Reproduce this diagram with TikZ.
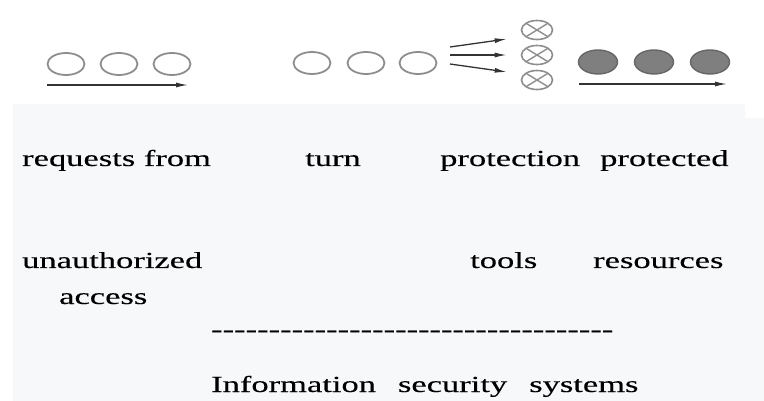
\documentclass[tikz,border=0pt]{standalone}
\usepackage{fontspec}
\usepackage{tikz}
\usepackage{xcolor}
\usetikzlibrary{arrows.meta,shapes.geometric}
\newfontfamily\labelfont[FakeStretch=1.5,FakeBold=0.3,Ligatures=TeXOff]{Liberation Serif}
\definecolor{panelgray}{HTML}{F7F8FA}
\definecolor{ringgray}{HTML}{8E8E8E}
\definecolor{fillgray}{HTML}{7F7F7F}
\tikzset{
    open-ring/.style = {draw=ringgray, line width=1.8pt, ellipse, inner sep=0pt, minimum width=37pt, minimum height=22pt},
    cross-ring/.style = {open-ring, line width=1.6pt, minimum width=31pt, minimum height=19pt,
        path picture={\draw[ringgray, line width=1.4pt]
            (path picture bounding box.south west) -- (path picture bounding box.north east)
            (path picture bounding box.north west) -- (path picture bounding box.south east);}},
    full-ring/.style = {draw=black!60, fill=fillgray, line width=1.4pt, ellipse, inner sep=0pt, minimum width=39pt, minimum height=24pt},
    flow-arrow/.style = {draw=black!80, line width=1.3pt, -{Latex[length=12pt,width=5pt]}},
    label-text/.style = {anchor=base west, inner sep=0pt, font=\labelfont\fontsize{23}{27}\selectfont},
}

\begin{document}
\begin{tikzpicture}[x=1pt, y=-1pt]
\useasboundingbox (0,0) rectangle (764,401);
\fill[panelgray] (13,104) -- (745,104) -- (745,118) -- (764,118) -- (764,401) -- (13,401) -- cycle;

% incoming requests
\node[open-ring] (ring-a1) at (66,64) {};
\node[open-ring] (ring-a2) at (119,64) {};
\node[open-ring] (ring-a3) at (172,64) {};
\coordinate (flow-a-start) at (47,85);
\coordinate (flow-a-end) at (188,85);
\draw[flow-arrow] (flow-a-start) -- (flow-a-end);

% queue
\node[open-ring] (ring-b1) at (312,63) {};
\node[open-ring] (ring-b2) at (366,63) {};
\node[open-ring] (ring-b3) at (418,63) {};

% protection tools
\node[cross-ring] (cross-1) at (537,30) {};
\node[cross-ring] (cross-2) at (537,55) {};
\node[cross-ring] (cross-3) at (537,80) {};
\coordinate (fan-1) at (450,47);
\coordinate (fan-2) at (450,55);
\coordinate (fan-3) at (450,64);
\draw[flow-arrow] (fan-1) -- ([xshift=-14pt,yshift=-9pt]cross-1.west);
\draw[flow-arrow] (fan-2) -- ([xshift=-14pt]cross-2.west);
\draw[flow-arrow] (fan-3) -- ([xshift=-14pt,yshift=8pt]cross-3.west);

% protected resources
\node[full-ring] (full-1) at (598,62) {};
\node[full-ring] (full-2) at (654,62) {};
\node[full-ring] (full-3) at (710,62) {};
\coordinate (flow-c-start) at (579,84);
\coordinate (flow-c-end) at (727,84);
\draw[flow-arrow] (flow-c-start) -- (flow-c-end);

% labels
\node[label-text] (requests) at (22,166) {requests from};
\node[label-text] (turn) at (305,166) {turn};
\node[label-text] (protection) at (440,166) {protection};
\node[label-text] (protected) at (600,166) {protected};
\node[label-text] (unauthorized) at (22,268) {unauthorized};
\node[label-text] (tools) at (470,268) {tools};
\node[label-text] (resources) at (593,268) {resources};
\node[label-text] (access) at (59,304) {access};
\node[label-text] (divider) at (211,337) {-----------------------------------};
\node[label-text] (systems) at (211,392) {Information\hspace{22pt}security\hspace{22pt}systems};
\end{tikzpicture}
\end{document}
